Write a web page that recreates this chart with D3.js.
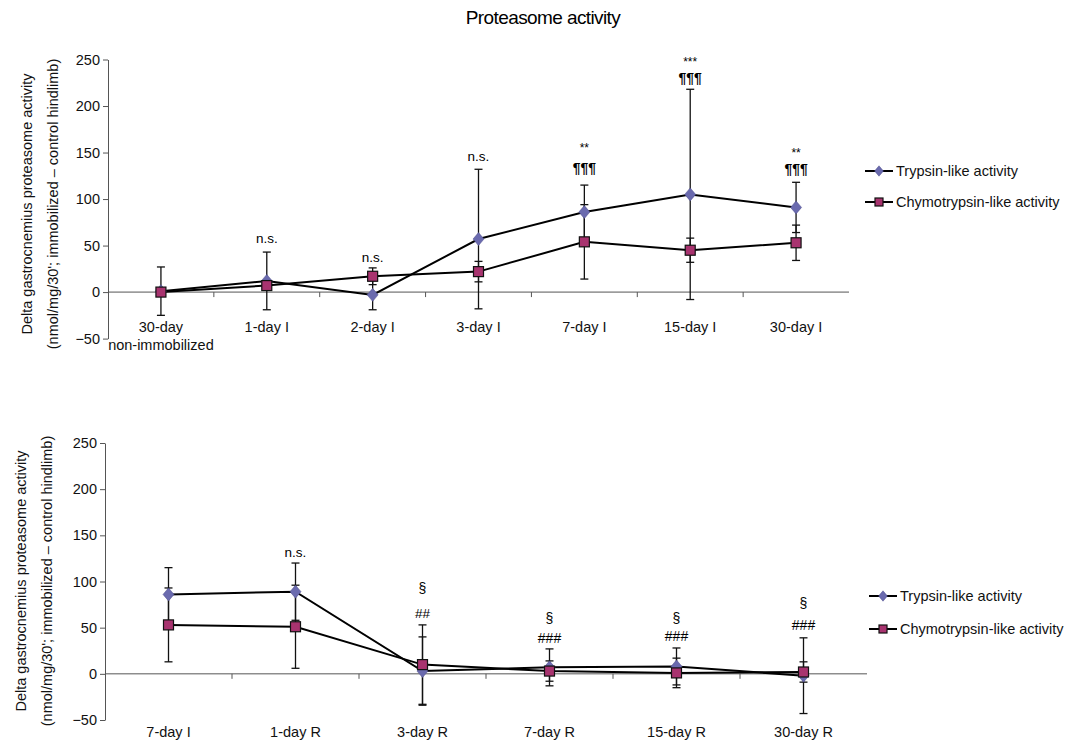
<!DOCTYPE html>
<html>
<head>
<meta charset="utf-8">
<script src="https://cdn.jsdelivr.net/npm/d3@7"></script>
<style>
  body { margin: 0; background: #fff; }
  svg { font-family: "Liberation Sans", Arial, sans-serif; }
</style>
</head>
<body>
<div id="chart"></div>
<script>
// ---- data: immobilization panel ----
const topCategories = ["30-day|non-immobilized", "1-day I", "2-day I", "3-day I", "7-day I", "15-day I", "30-day I"];
const topTrypsin    = [1, 12, -3, 57, 86, 105, 91];
const topTrypsinErr = [26, 31, 16, 75, 29, 113, 27];
const topChymo      = [0, 7, 17, 22, 54, 45, 53];
const topChymoErr   = [3, 5, 9, 11, 40, 13, 19];
const topMarks      = [[], ["n.s."], ["n.s."], ["n.s."], ["**", "¶¶¶"], ["***", "¶¶¶"], ["**", "¶¶¶"]];
const topMarkLevels = [[], [56], [36], [144], [157, 134], [250, 231], [152, 133]];

// ---- data: remobilization panel ----
const botCategories = ["7-day I", "1-day R", "3-day R", "7-day R", "15-day R", "30-day R"];
const botTrypsin    = [86, 89, 3, 7, 8, -2];
const botTrypsinErr = [29, 31, 37, 20, 20, 41];
const botChymo      = [53, 51, 10, 3, 1, 2];
const botChymoErr   = [40, 45, 43, 11, 16, 11];
const botMarks      = [[], ["n.s."], ["§", "##"], ["§", "###"], ["§", "###"], ["§", "###"]];
const botMarkLevels = [[], [130], [93, 66], [60, 39], [60, 41], [77, 53]];

const yTicks = [-50, 0, 50, 100, 150, 200, 250];
const seriesNames = ["Trypsin-like  activity", "Chymotrypsin-like  activity"];
const yLabelLines = ["Delta  gastrocnemius  proteasome  activity", "(nmol/mg/30'; immobilized \u2013 control  hindlimb)"];

const TRYPSIN_COLOR = "#6a6aae";
const CHYMO_COLOR = "#a8336f";

const ProteasomeChart = {
    create() {
        const svg = d3.select('#chart').append('svg')
            .attr('width', 1081)
            .attr('height', 740);

        svg.append('text')
            .attr('x', 543)
            .attr('y', 24)
            .attr('text-anchor', 'middle')
            .style('font-size', '19px')
            .style('letter-spacing', '-0.6px')
            .text('Proteasome activity');

        this.drawPanel(svg, {
            cats: topCategories, trypsin: topTrypsin, trypsinErr: topTrypsinErr,
            chymo: topChymo, chymoErr: topChymoErr, marks: topMarks, levels: topMarkLevels,
            xRange: [108, 849], yRange: [338.6, 59.5], labelY: 332,
            legendX: 865, legendY: 171, legendGap: 31, yLabelX: 27, yLabelMid: 204
        });

        this.drawPanel(svg, {
            cats: botCategories, trypsin: botTrypsin, trypsinErr: botTrypsinErr,
            chymo: botChymo, chymoErr: botChymoErr, marks: botMarks, levels: botMarkLevels,
            xRange: [105, 867], yRange: [720, 443], labelY: 737,
            legendX: 869, legendY: 596, legendGap: 33, yLabelX: 21, yLabelMid: 581
        });
    },

    drawPanel(svg, p) {
        const x = d3.scaleBand().domain(p.cats).range(p.xRange);
        const y = d3.scaleLinear().domain([-50, 250]).range(p.yRange);
        const cx = c => x(c) + x.bandwidth() / 2;

        // y axis
        const yAxis = svg.append('g')
            .attr('transform', `translate(${p.xRange[0]},0)`)
            .call(d3.axisLeft(y).tickValues(yTicks).tickSize(5).tickSizeOuter(0));
        yAxis.select('.domain').attr('stroke', '#555');
        yAxis.selectAll('.tick line').attr('stroke', '#555');
        yAxis.selectAll('.tick text')
            .attr('x', -8)
            .style('font-size', '14.5px')
            .style('font-family', '"Liberation Sans", Arial, sans-serif')
            .attr('fill', '#111');

        // category axis crosses at zero, ticks between categories
        svg.append('line')
            .attr('x1', p.xRange[0]).attr('x2', p.xRange[1])
            .attr('y1', y(0)).attr('y2', y(0))
            .attr('stroke', '#555');
        svg.selectAll(null)
            .data(p.cats.slice(1))
            .enter().append('line')
            .attr('x1', d => x(d)).attr('x2', d => x(d))
            .attr('y1', y(0)).attr('y2', y(0) + 5)
            .attr('stroke', '#555');

        p.cats.forEach(c => {
            const t = svg.append('text')
                .attr('x', cx(c))
                .attr('y', p.labelY)
                .attr('text-anchor', 'middle')
                .style('font-size', '14.5px')
                .attr('fill', '#111');
            c.split('|').forEach((line, i) => {
                t.append('tspan').attr('x', cx(c)).attr('dy', i === 0 ? 0 : 18).text(line);
            });
        });

        // y axis title, two rotated lines
        yLabelLines.forEach((line, i) => {
            svg.append('text')
                .attr('transform', `translate(${p.yLabelX + i * 26},${p.yLabelMid}) rotate(-90)`)
                .attr('text-anchor', 'middle')
                .attr('dy', '0.35em')
                .style('font-size', '14.5px')
                .attr('fill', '#111')
                .text(line);
        });

        const series = [
            { values: p.trypsin, errs: p.trypsinErr, shape: 'diamond', color: TRYPSIN_COLOR },
            { values: p.chymo, errs: p.chymoErr, shape: 'square', color: CHYMO_COLOR }
        ];

        const line = d3.line()
            .x((d, i) => cx(p.cats[i]))
            .y(d => y(d));

        series.forEach(s => {
            svg.append('path')
                .datum(s.values)
                .attr('fill', 'none')
                .attr('stroke', '#000')
                .attr('stroke-width', 2)
                .attr('d', line);
        });

        // error bars
        series.forEach(s => {
            const g = svg.append('g').attr('stroke', '#111').attr('stroke-width', 1.3);
            s.values.forEach((v, i) => {
                const xc = cx(p.cats[i]);
                const hi = y(v + s.errs[i]);
                const lo = y(v - s.errs[i]);
                g.append('line').attr('x1', xc).attr('x2', xc).attr('y1', hi).attr('y2', lo);
                g.append('line').attr('x1', xc - 4).attr('x2', xc + 4).attr('y1', hi).attr('y2', hi);
                g.append('line').attr('x1', xc - 4).attr('x2', xc + 4).attr('y1', lo).attr('y2', lo);
            });
        });

        // markers
        series.forEach(s => {
            s.values.forEach((v, i) => {
                this.drawMarker(svg, s.shape, cx(p.cats[i]), y(v), s.color);
            });
        });

        // significance marks
        p.marks.forEach((labels, i) => {
            labels.forEach((lab, j) => {
                svg.append('text')
                    .attr('x', cx(p.cats[i]))
                    .attr('y', y(p.levels[i][j]))
                    .attr('dy', this.inkOffset(lab))
                    .attr('text-anchor', 'middle')
                    .style('font-size', this.markSize(lab))
                    .style('font-weight', lab.startsWith('¶') ? 'bold' : 'normal')
                    .attr('fill', '#000')
                    .text(lab);
            });
        });

        // legend
        series.forEach((s, i) => {
            const ly = p.legendY + i * p.legendGap;
            svg.append('line')
                .attr('x1', p.legendX).attr('x2', p.legendX + 28)
                .attr('y1', ly).attr('y2', ly)
                .attr('stroke', '#000').attr('stroke-width', 2);
            this.drawMarker(svg, s.shape, p.legendX + 14, ly, s.color, 0.8);
            svg.append('text')
                .attr('x', p.legendX + 31)
                .attr('y', ly)
                .attr('dy', '0.35em')
                .style('font-size', '14.5px')
                .attr('fill', '#111')
                .text(seriesNames[i]);
        });
    },

    drawMarker(svg, shape, x0, y0, color, k = 1) {
        if (shape === 'diamond') {
            const w = 5.5 * k, h = 6.5 * k;
            svg.append('path')
                .attr('d', `M${x0},${y0 - h}L${x0 + w},${y0}L${x0},${y0 + h}L${x0 - w},${y0}Z`)
                .attr('fill', color)
                .attr('stroke', '#4a4a8a')
                .attr('stroke-width', 0.5);
        } else {
            const s = 10 * k;
            svg.append('rect')
                .attr('x', x0 - s / 2).attr('y', y0 - s / 2)
                .attr('width', s).attr('height', s)
                .attr('fill', color)
                .attr('stroke', '#111')
                .attr('stroke-width', 1.2);
        }
    },

    inkOffset(lab) {
        if (lab.startsWith('*')) return '0.5em';
        if (lab === 'n.s.') return '0.25em';
        if (lab.startsWith('¶')) return '0.4em';
        return '0.35em';
    },

    markSize(lab) {
        if (lab.startsWith('*')) return '12px';
        if (lab === 'n.s.' || lab === '##') return '13.5px';
        return '14px';
    }
};

ProteasomeChart.create();
</script>
</body>
</html>
